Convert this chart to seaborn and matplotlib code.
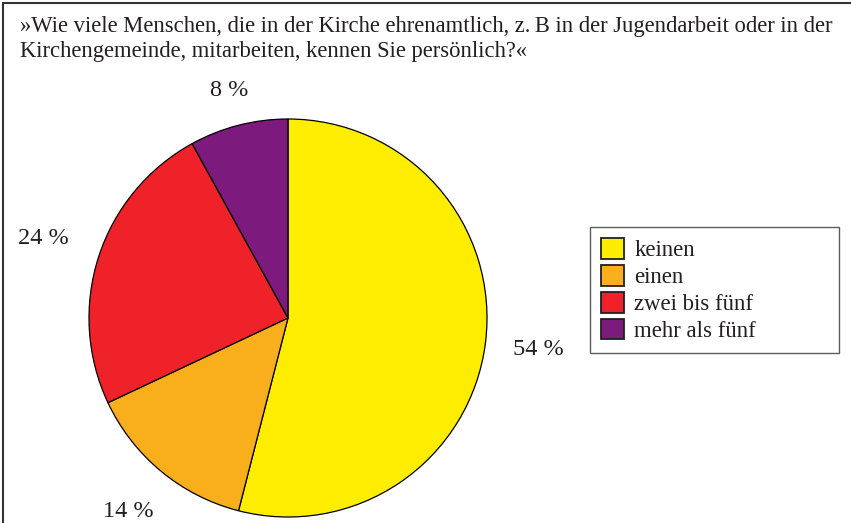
import numpy as np
import matplotlib
matplotlib.use("Agg")
import matplotlib.pyplot as plt
import seaborn as sns
from matplotlib.patches import Rectangle, Patch

# DATA
kategorien = ["keinen", "einen", "zwei bis fünf", "mehr als fünf"]
anteile = [54, 14, 24, 8]
beschriftung = ["54 %", "14 %", "24 %", "8 %"]
farben = ["#FFED00", "#F9AE1B", "#EE2228", "#7D1A7D"]
titel = ("»Wie viele Menschen, die in der Kirche ehrenamtlich, z.\u2009B in der Jugendarbeit oder in der\n"
         "Kirchengemeinde, mitarbeiten, kennen Sie persönlich?«")

# STYLE
sns.set_theme(style="white")
plt.rcParams["font.family"] = ["Liberation Serif", "DejaVu Serif"]
textfarbe = "#231F20"
label_abstand = [1.27, 1.26, 1.29, 1.18]

W, H = 851, 523
fig = plt.figure(figsize=(W / 100, H / 100), dpi=100)

# pie axes: center (288, 318), radius 199 px
cx, cy, r = 288, 318, 199
ax = fig.add_axes([(cx - r) / W, 1 - (cy + r) / H, 2 * r / W, 2 * r / H])
wedges, _ = ax.pie(anteile, colors=farben, startangle=90, counterclock=False,
                   radius=1, wedgeprops=dict(edgecolor="black", linewidth=0.9))
ax.set_xlim(-1, 1)
ax.set_ylim(-1, 1)
ax.set_aspect("equal")
ax.axis("off")

for w, txt, d in zip(wedges, beschriftung, label_abstand):
    mid = np.deg2rad((w.theta1 + w.theta2) / 2)
    ax.text(d * np.cos(mid), d * np.sin(mid), txt, ha="center", va="center",
            fontsize=17.5, color=textfarbe, clip_on=False)

# title
fig.text(20 / W, 1 - 16 / H, titel, ha="left", va="top", fontsize=16.3,
         color=textfarbe, linespacing=1.27)

# legend, stretched to the box width
handles = [Patch(facecolor=c, edgecolor="#231F20", linewidth=1.3) for c in farben]
leg = fig.legend(handles, kategorien, loc="upper left",
                 bbox_to_anchor=(590 / W, 1 - 353 / H, 249 / W, 126 / H), mode="expand",
                 frameon=True, fancybox=False, fontsize=16.4,
                 handlelength=1.0, handleheight=1.0,
                 handletextpad=0.45, labelspacing=0.17, borderpad=0.5,
                 borderaxespad=0)
leg.get_frame().set_edgecolor("#333333")
leg.get_frame().set_linewidth(1.0)
for t in leg.get_texts():
    t.set_color(textfarbe)

# outer frame (top and left visible)
fig.patches.append(Rectangle((3 / W, -0.1), 1.2, 1.1 - 3 / H, transform=fig.transFigure,
                             fill=False, edgecolor="#333333", linewidth=1.5))

fig.savefig("out.png", dpi=100)
